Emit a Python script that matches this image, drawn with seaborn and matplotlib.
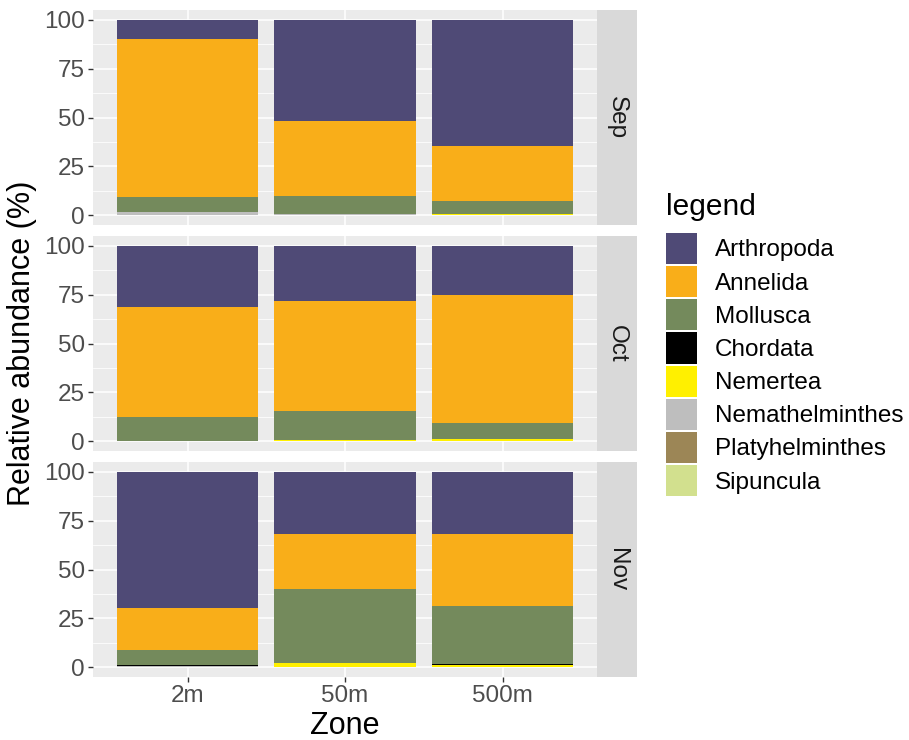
import matplotlib
matplotlib.use("Agg")
import matplotlib.pyplot as plt
import seaborn as sns
import numpy as np
from matplotlib.patches import Patch

# ---------------- data ----------------
zones = ["2m", "50m", "500m"]
months = ["Sep", "Oct", "Nov"]
# legend order (top of stack first)
taxa = ["Arthropoda", "Annelida", "Mollusca", "Chordata", "Nemertea",
        "Nemathelminthes", "Platyhelminthes", "Sipuncula"]
colors = ["#4F4A76", "#F9AE19", "#748A5C", "#000000", "#FFF000",
          "#BEBEBE", "#9C8656", "#D2E08E"]

# values per taxon: Sep(2m,50m,500m), Oct(2m,50m,500m), Nov(2m,50m,500m)
arthropoda      = [9.7, 51.8, 64.6, 31.3, 28.2, 25.1, 69.7, 31.8, 31.8]
annelida        = [81.1, 38.5, 28.0, 56.1, 56.2, 65.4, 21.3, 28.2, 36.9]
mollusca        = [7.3, 9.3, 6.9, 12.3, 15.2, 8.4, 8.0, 37.6, 29.7]
chordata        = [0.0, 0.0, 0.0, 0.0, 0.0, 0.0, 0.5, 0.0, 0.5]
nemertea        = [0.0, 0.0, 0.5, 0.0, 0.4, 1.1, 0.0, 2.4, 1.1]
nemathelminthes = [1.9, 0.4, 0.0, 0.3, 0.0, 0.0, 0.5, 0.0, 0.0]
platyhelminthes = [0.0, 0.0, 0.0, 0.0, 0.0, 0.0, 0.0, 0.0, 0.0]
sipuncula       = [0.0, 0.0, 0.0, 0.0, 0.0, 0.0, 0.0, 0.0, 0.0]

values = {
    "Arthropoda": arthropoda, "Annelida": annelida, "Mollusca": mollusca,
    "Chordata": chordata, "Nemertea": nemertea,
    "Nemathelminthes": nemathelminthes, "Platyhelminthes": platyhelminthes,
    "Sipuncula": sipuncula,
}
yticks = [0, 25, 50, 75, 100]

# ---------------- style ----------------
plt.rcParams["font.family"] = ["Liberation Sans", "DejaVu Sans"]

W, H = 909, 740
fig = plt.figure(figsize=(W / 100, H / 100), dpi=100)

def fx(px):
    return px / W

def fy(py):
    return 1 - py / H

panel_left, panel_right = 93, 597
strip_right = 637
panel_tops = [10, 236, 462]
panel_h = 215

BG = "#EBEBEB"
TXT = "#4D4D4D"
TICK_FS = 17.5

for i, m in enumerate(months):
    top = panel_tops[i]
    ax = fig.add_axes([fx(panel_left), fy(top + panel_h),
                       fx(panel_right - panel_left), panel_h / H])
    ax.set_facecolor(BG)
    # grid
    for yv in yticks:
        ax.axhline(yv, color="white", lw=1.1, zorder=0)
    for yv in [12.5, 37.5, 62.5, 87.5]:
        ax.axhline(yv, color="white", lw=0.55, zorder=0)
    for xv in range(len(zones)):
        ax.axvline(xv, color="white", lw=1.1, zorder=0)

    bottom = np.zeros(len(zones))
    for t, c in zip(taxa[::-1], colors[::-1]):
        v = np.array(values[t][i * 3:(i + 1) * 3])
        sns.barplot(x=zones, y=v, order=zones, color=c, width=0.9,
                    bottom=bottom, errorbar=None, linewidth=0,
                    ax=ax, zorder=2, saturation=1)
        bottom = bottom + v

    ax.set_xlim(-0.6, 2.6)
    ax.set_ylim(-5, 105)
    ax.set_yticks(yticks)
    ax.set_yticklabels([str(v) for v in yticks], fontsize=TICK_FS, color=TXT)
    ax.tick_params(axis="y", length=3.7, width=1.0, color="#333333", pad=2)
    ax.set_xticks(range(len(zones)))
    if i == len(months) - 1:
        ax.set_xticklabels(zones, fontsize=TICK_FS, color=TXT)
        ax.tick_params(axis="x", length=3.7, width=1.0, color="#333333", pad=2)
    else:
        ax.set_xticklabels([])
        ax.tick_params(axis="x", length=0)
    ax.set_xlabel("")
    ax.set_ylabel("")
    for s in ax.spines.values():
        s.set_visible(False)

    # strip
    sax = fig.add_axes([fx(panel_right), fy(top + panel_h),
                        fx(strip_right - panel_right), panel_h / H])
    sax.set_facecolor("#D9D9D9")
    sax.set_xticks([])
    sax.set_yticks([])
    for s in sax.spines.values():
        s.set_visible(False)
    sax.text(0.5, 0.5, m, rotation=-90, ha="center", va="center",
             fontsize=TICK_FS, color="#1A1A1A", transform=sax.transAxes)

fig.text(fx(22), fy(343.5), "Relative abundance (%)", rotation=90,
         ha="center", va="center", fontsize=22, color="black")
fig.text(fx(345), fy(734), "Zone", ha="center", va="baseline",
         fontsize=22, color="black")

handles = [Patch(facecolor=c, edgecolor="none") for c in colors]
leg = fig.legend(handles, taxa, title="legend", loc="upper left",
                 bbox_to_anchor=(fx(666), fy(193)), frameon=False,
                 fontsize=TICK_FS, title_fontsize=21.5, handlelength=1.28,
                 handleheight=1.6, labelspacing=0.08, handletextpad=0.73,
                 borderpad=0, borderaxespad=0)
leg._legend_box.align = "left"
leg._legend_box.sep = 8.5

fig.savefig("out.png", dpi=100)
